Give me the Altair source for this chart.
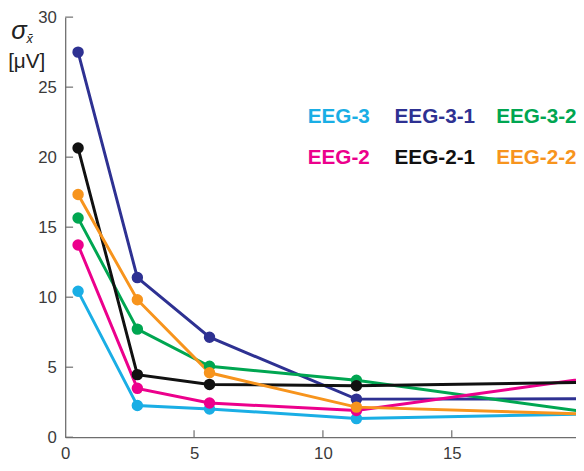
import altair as alt
import pandas as pd

# x positions of the measurements (last one lies beyond the visible right edge)
x_vals = [0.5, 2.8, 5.6, 11.3, 22.5]

series_names = ["EEG-3", "EEG-3-1", "EEG-3-2", "EEG-2", "EEG-2-1", "EEG-2-2"]
series_colors = ["#1AAEE5", "#2E3192", "#00A651", "#EC008C", "#111111", "#F7941D"]

eeg3 = [10.42, 2.26, 2.02, 1.33, 1.74]
eeg3_1 = [27.5, 11.4, 7.14, 2.72, 2.75]
eeg3_2 = [15.65, 7.72, 5.07, 4.07, 1.22]
eeg2 = [13.73, 3.49, 2.44, 1.91, 4.76]
eeg2_1 = [20.65, 4.47, 3.77, 3.68, 3.98]
eeg2_2 = [17.33, 9.82, 4.6, 2.15, 1.52]

series_values = [eeg3, eeg3_1, eeg3_2, eeg2, eeg2_1, eeg2_2]

y_ticks = [0, 5, 10, 15, 20, 25, 30]
x_ticks = [0, 5, 10, 15]

rows = []
for name, vals in zip(series_names, series_values):
    for xv, yv in zip(x_vals, vals):
        rows.append({"series": name, "x": xv, "y": yv})
df = pd.DataFrame(rows)

W, H = 518, 426
xscale = alt.Scale(domain=[0, 19.82], nice=False, zero=False)
yscale = alt.Scale(domain=[0, 30], nice=False)
cscale = alt.Scale(domain=series_names, range=series_colors)

font = "Liberation Sans"

base = alt.Chart(df).encode(
    x=alt.X("x:Q", scale=xscale,
            axis=alt.Axis(values=x_ticks, title=None, grid=False, ticks=False,
                          labelPadding=9, labelFontSize=17, labelColor="#3a3a3a",
                          labelFont=font, domainColor="#6e6e6e", domainWidth=1.3,
                          labelFlush=False)),
    y=alt.Y("y:Q", scale=yscale,
            axis=alt.Axis(values=y_ticks, title=None, grid=False, ticks=False,
                          labelPadding=9, labelFontSize=17, labelColor="#3a3a3a",
                          labelFont=font, domainColor="#6e6e6e", domainWidth=1.3,
                          labelFlush=False)),
    color=alt.Color("series:N", scale=cscale, legend=None),
    detail="series:N",
)

lines = base.mark_line(strokeWidth=3, clip=True)
points = base.mark_circle(size=135, opacity=1, clip=True)

ytick_df = pd.DataFrame({"v": y_ticks})
yticks = alt.Chart(ytick_df).mark_rule(color="#6e6e6e", strokeWidth=1.2).encode(
    y=alt.Y("v:Q", scale=yscale),
    x=alt.value(0), x2=alt.value(8),
)
xtick_df = pd.DataFrame({"v": x_ticks[1:]})
xticks = alt.Chart(xtick_df).mark_rule(color="#6e6e6e", strokeWidth=1.2).encode(
    x=alt.X("v:Q", scale=xscale),
    y=alt.value(H), y2=alt.value(H - 7),
)

one = pd.DataFrame({"a": [0]})
sigma = alt.Chart(one).mark_text(text="σ", font=font, fontSize=26, fontStyle="italic",
                                 color="#222", align="center", baseline="alphabetic").encode(
    x=alt.value(-47), y=alt.value(22))
sub = alt.Chart(one).mark_text(text="x\u0304", font=font, fontSize=13, fontStyle="italic",
                               color="#222", align="center", baseline="alphabetic").encode(
    x=alt.value(-36), y=alt.value(26))
unit = alt.Chart(one).mark_text(text="[μV]", font=font, fontSize=21,
                                color="#222", align="center", baseline="alphabetic").encode(
    x=alt.value(-39), y=alt.value(52))

legend_layers = []
leg_x = [246, 334, 437]
leg_y = [101, 143]
for i, (name, col) in enumerate(zip(series_names, series_colors)):
    r, c = divmod(i, 3)
    legend_layers.append(
        alt.Chart(one).mark_text(text=name, font=font, fontSize=21, fontWeight="bold",
                                 color=col, align="left", baseline="middle").encode(
            x=alt.value(leg_x[c]), y=alt.value(leg_y[r]))
    )

chart = alt.layer(lines, points, yticks, xticks, sigma, sub, unit, *legend_layers).properties(
    width=W, height=H,
    autosize=alt.AutoSizeParams(type="none"),
    padding={"left": 58, "top": 6, "right": 0, "bottom": 31},
).configure_view(stroke=None)

chart.save("out.html", embed_options={"renderer": "svg", "actions": False})
